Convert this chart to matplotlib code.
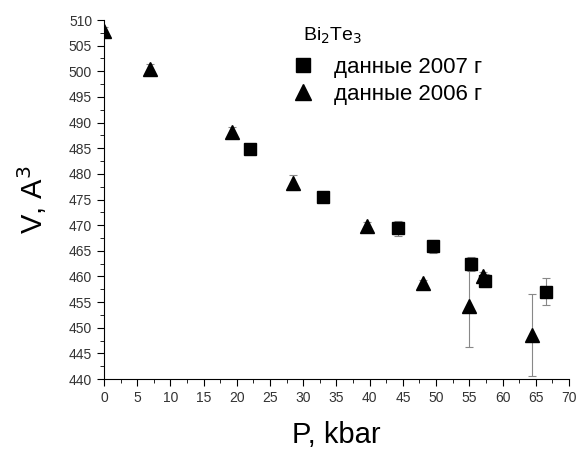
import matplotlib.pyplot as plt
from matplotlib.lines import Line2D
from matplotlib.ticker import MultipleLocator

plt.rcParams['font.family'] = ['Liberation Sans', 'DejaVu Sans']

# данные 2006 г (треугольники)
p_2006 = [0.0, 6.9, 19.2, 28.5, 39.6, 48.1, 55.0, 57.0, 64.5]
v_2006 = [507.8, 500.4, 488.2, 478.3, 469.8, 458.7, 454.2, 460.1, 448.6]
err_2006 = [0.8, 1.0, 1.0, 1.4, 0.8, 0.6, 8.0, 0.8, 8.0]

# данные 2007 г (квадраты)
p_2007 = [22.0, 33.0, 44.2, 49.6, 55.2, 57.3, 66.6]
v_2007 = [484.9, 475.4, 469.4, 465.9, 462.4, 459.2, 457.0]
err_2007 = [0.5, 0.8, 1.5, 1.3, 1.4, 1.3, 2.6]

fig = plt.figure(figsize=(5.79, 4.55), dpi=100)
ax = fig.add_axes([0.1796, 0.167, 0.803, 0.789])

ax.errorbar(p_2007, v_2007, yerr=err_2007, fmt='s', color='black', ms=9,
            ecolor='#888888', elinewidth=0.8, capsize=3, capthick=0.8,
            clip_on=False, zorder=3)
ax.errorbar(p_2006, v_2006, yerr=err_2006, fmt='^', color='black', ms=10,
            ecolor='#888888', elinewidth=0.8, capsize=3, capthick=0.8,
            zorder=3)

ax.set_xlim(0, 70)
ax.set_ylim(440, 510)
ax.xaxis.set_major_locator(MultipleLocator(5))
ax.xaxis.set_minor_locator(MultipleLocator(2.5))
ax.yaxis.set_major_locator(MultipleLocator(5))
ax.yaxis.set_minor_locator(MultipleLocator(2.5))
ax.spines['top'].set_visible(False)
ax.spines['right'].set_visible(False)
ax.tick_params(which='major', direction='out', length=5, labelsize=10, labelcolor='#333333')
ax.tick_params(which='minor', direction='out', length=3)

ax.set_xlabel('P, kbar', fontsize=21, labelpad=12)
ax.set_ylabel('V, A$^3$', fontsize=21, labelpad=14)

# легенда
fig.text(303 / 579, 1 - 36 / 455, 'Bi$_2$Te$_3$', fontsize=14, va='center', ha='left')
handles = [Line2D([], [], marker='s', ls='none', color='black', ms=10),
           Line2D([], [], marker='^', ls='none', color='black', ms=11)]
labels = ['данные 2007 г', 'данные 2006 г']
leg = fig.legend(handles, labels, frameon=False, loc='upper left',
                 bbox_to_anchor=(293 / 579, 1 - 57 / 455),
                 fontsize=16, handlelength=0.9, handletextpad=0.95,
                 borderpad=0, borderaxespad=0, labelspacing=0.25)

fig.savefig('out.png', dpi=100)
